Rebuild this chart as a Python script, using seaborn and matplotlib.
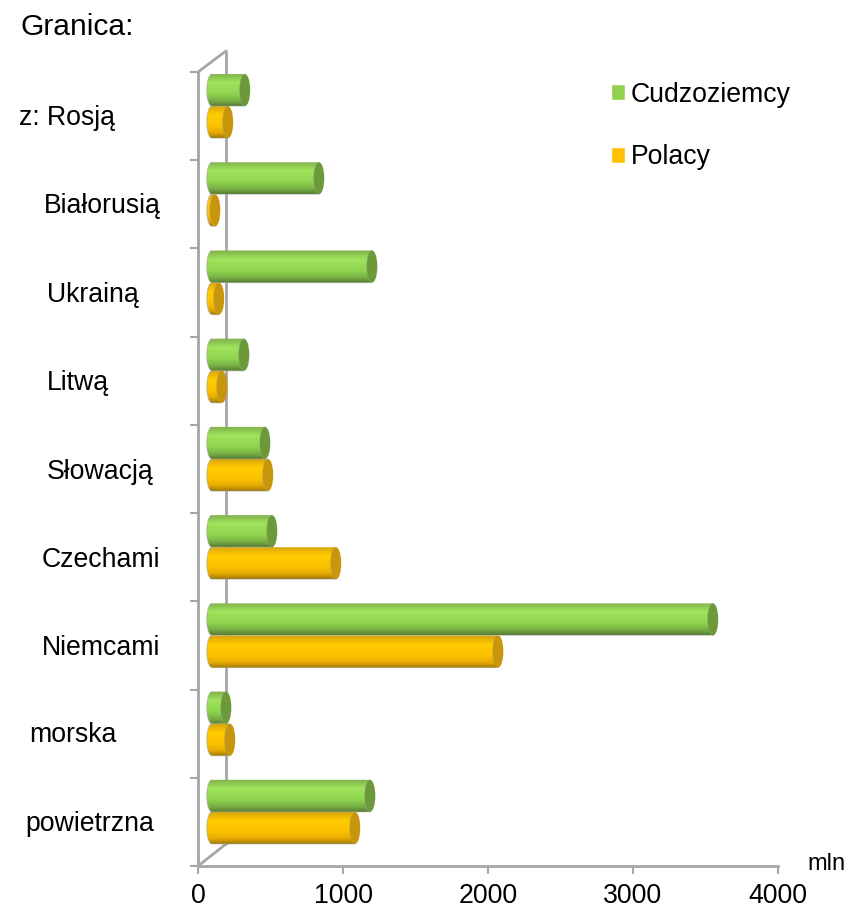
import numpy as np
import pandas as pd
import matplotlib
matplotlib.use('Agg')
import matplotlib.pyplot as plt
from matplotlib.colors import LinearSegmentedColormap
from matplotlib.patches import Ellipse, PathPatch
from matplotlib.path import Path
from matplotlib.transforms import Affine2D
import seaborn as sns

# ── Data ─────────────────────────────────────────────────────────────
categories = ["z: Rosją", "Białorusią", "Ukrainą", "Litwą", "Słowacją",
              "Czechami", "Niemcami", "morska", "powietrzna"]
cudzoziemcy = [227, 738, 1104, 221, 366, 414, 3455, 97, 1090]
polacy = [110, 21, 48, 69, 386, 855, 1973, 124, 986]
x_ticks = [0, 1000, 2000, 3000, 4000]

# ── Style ────────────────────────────────────────────────────────────
W, H = 858, 909
GREY = "#A6A6A6"
GREEN = "#92D050"
ORANGE = "#FFC000"
stop_pos = [0, 0.28, 0.62, 0.84, 1]
styles = {
    GREEN: (["#7FAF4B", "#A0E35C", "#90D550", "#78B044", "#587E33"], "#6C9A3A"),
    ORANGE: (["#D6A208", "#FFCC00", "#FCC200", "#E6AA00", "#A27A08"], "#C8960C"),
}
label_left = [19, 44, 47, 47, 47, 42, 42, 29, 25]
label_mid = [118, 206, 295, 383, 472, 560, 648, 735, 824]

sns.set_theme(style="white")
plt.rcParams['font.family'] = ['Liberation Sans', 'DejaVu Sans']


def px(x, y):
    return x / W, 1 - y / H


df = pd.DataFrame({
    "granica": categories * 2,
    "mln": cudzoziemcy + polacy,
    "kto": ["Cudzoziemcy"] * len(categories) + ["Polacy"] * len(categories),
})

fig = plt.figure(figsize=(W / 100, H / 100), dpi=100, facecolor="white")
l, b = px(198, 866)
ax = fig.add_axes([l, b, 580 / W, 794 / H], facecolor="none")

sns.barplot(data=df, y="granica", x="mln", hue="kto", orient="h",
            palette=[GREEN, ORANGE], width=0.727, saturation=1,
            errorbar=None, ax=ax)

# 3D look: the bars sit in the middle of the depth of the chart
shifted = ax.transData + Affine2D().translate(14, 10)
cap_w = 10.5 / (580 / 4000)

for container, base in zip(ax.containers, [GREEN, ORANGE]):
    stops, cap_color = styles[base]
    cmap = LinearSegmentedColormap.from_list("cyl", list(zip(stop_pos, stops)))
    for bar in container:
        bar.set_transform(shifted)
        y0, h = bar.get_y(), bar.get_height()
        mid = y0 + h / 2
        end = bar.get_width()

        # body: rounded on the left, straight up to the end cap
        t = np.linspace(np.pi / 2, 3 * np.pi / 2, 40)
        xs = np.r_[cap_w / 2 * np.cos(t), end + cap_w / 2 * np.cos(t[::-1])]
        ys = np.r_[mid - h / 2 * np.sin(t), mid - h / 2 * np.sin(t[::-1])]
        outline = Path(np.c_[xs, ys], closed=False)
        clip = PathPatch(outline, transform=shifted)

        im = ax.imshow(np.linspace(0, 1, 64).reshape(-1, 1), cmap=cmap,
                       aspect="auto", origin="upper", zorder=3,
                       extent=(-cap_w, end + cap_w, y0 + h, y0),
                       transform=shifted)
        im.set_clip_path(clip)
        ax.add_patch(PathPatch(outline, fill=False, edgecolor="#a0a0a0",
                               linewidth=0.8, alpha=0.5, zorder=4,
                               transform=shifted))
        ax.add_patch(Ellipse((end, mid), cap_w, h, facecolor=cap_color,
                             edgecolor="none", zorder=5, transform=shifted))

ax.set_xlim(0, 4000)
ax.set_ylim(len(categories) - 0.5, -0.5)
ax.set_xticks(x_ticks)
ax.set_yticks(np.arange(len(categories) + 1) - 0.5)
ax.set_yticklabels([])
ax.set_xlabel("")
ax.set_ylabel("")
ax.tick_params(axis="x", bottom=True, length=5.5, width=1.5, color=GREY,
               labelsize=19.2, labelcolor="black", pad=7)
ax.tick_params(axis="y", left=True, length=5.5, width=1.5, color=GREY)
sns.despine(ax=ax)
for side in ("left", "bottom"):
    ax.spines[side].set_color(GREY)
    ax.spines[side].set_linewidth(2)

# back wall
for xy0, xy1 in [((198, 72), (226, 51)), ((226, 51), (226, 844)),
                 ((198, 866), (226, 844))]:
    x0, y0 = px(*xy0)
    x1, y1 = px(*xy1)
    ax.plot([x0, x1], [y0, y1], color=GREY, linewidth=2, clip_on=False,
            transform=fig.transFigure, zorder=1)

# labels are free text boxes in the original, not aligned
for name, lx, ly in zip(categories, label_left, label_mid):
    fig.text(*px(lx, ly), name, fontsize=19.2, color="black",
             ha="left", va="center")
fig.text(*px(21, 27), "Granica:", fontsize=21.6, color="black",
         ha="left", va="center")
fig.text(*px(807, 864), "mln", fontsize=17, color="black",
         ha="left", va="center")

handles, labels = ax.get_legend_handles_labels()
leg = ax.legend(handles, labels, loc="upper left", frameon=False,
                bbox_to_anchor=px(600, 71), bbox_transform=fig.transFigure,
                fontsize=19.2, handlelength=0.53, handleheight=0.53,
                handletextpad=0.22, labelspacing=1.38, borderpad=0.4,
                borderaxespad=0)
for text in leg.get_texts():
    text.set_color("black")

fig.savefig("out.png", dpi=100, facecolor="white")
